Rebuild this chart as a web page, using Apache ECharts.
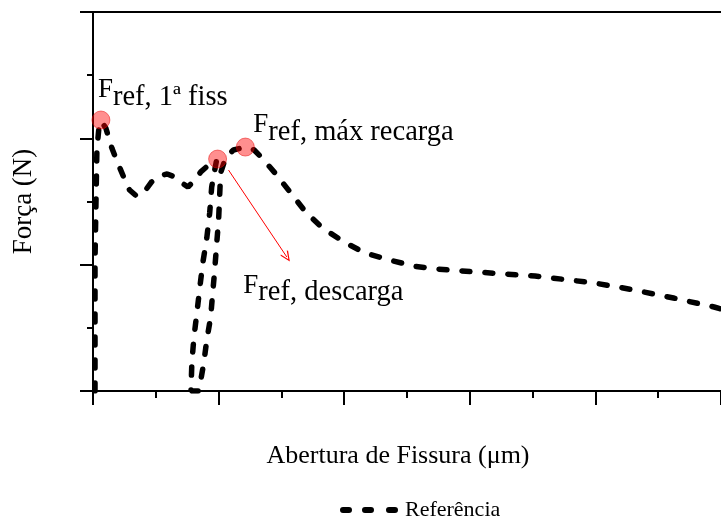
<!DOCTYPE html>
<html>
<head>
<meta charset="utf-8">
<script src="https://cdn.jsdelivr.net/npm/echarts@6/dist/echarts.min.js"></script>
<style>html,body{margin:0;padding:0;background:#fff}#c{width:721px;height:519px}</style>
</head>
<body>
<div id="c"></div>
<script>
// Abertura de fissura (major tick = 1 unit) vs Força (major tick = 1 unit); axes carry no numbers
var seriesName = 'Referência';
var xName = 'Abertura de Fissura (μm)';
var yName = 'Força (N)';
var aberturaRef = [0.016,0.016,0.016,0.024,0.031,0.047,0.063,0.102,0.150,0.197,0.244,0.291,0.346,0.402,0.465,0.528,0.591,0.654,0.709,0.756,0.803,0.858,0.921,0.984,
  0.945,0.929,0.906,0.874,0.850,0.827,0.803,0.787,0.780,
  0.843,0.882,0.906,0.937,0.953,0.969,0.984,1.000,1.008,1.016,1.055,1.118,1.213,1.283,1.346,1.449,1.575,1.693,1.827,2.000,2.165,2.362,2.551,2.732,3.047,3.520,3.992,4.307,4.622,4.945,5.0];
var forcaRef = [0,0.483,1.037,1.512,1.907,2.082,2.137,2.082,1.923,1.805,1.694,1.591,1.544,1.567,1.654,1.702,1.718,1.694,1.646,1.615,1.662,1.734,1.789,1.829,
  1.615,1.409,1.211,1.013,0.815,0.617,0.420,0.222,0,
  0,0.222,0.404,0.586,0.776,0.958,1.156,1.354,1.536,1.726,1.844,1.908,1.931,1.908,1.844,1.726,1.567,1.417,1.290,1.179,1.092,1.037,0.989,0.966,0.942,0.910,0.855,0.800,0.736,0.665,0.649];
// marked points: 1a fissura, descarga, max recarga
var markX = [0.063, 0.992, 1.213];
var markY = [2.145, 1.836, 1.931];
// annotation texts and their anchors (top-left of text, data coords)
var noteSub = ['ref, 1ª fiss', 'ref, máx recarga', 'ref, descarga'];
var noteX = [0.039, 1.276, 1.197];
var noteY = [2.493, 2.216, 0.942];
// arrow from descarga point
var arrowFrom = [1.079, 1.749];
var arrowTo = [1.543, 1.061];

var serif = 'Liberation Serif, Times New Roman, serif';
var line = [];
for (var i = 0; i < aberturaRef.length; i++) line.push([aberturaRef[i], forcaRef[i]]);
var marks = [];
for (var j = 0; j < markX.length; j++) marks.push([markX[j], markY[j]]);
var notes = [];
for (var k = 0; k < noteX.length; k++) notes.push({value: [noteX[k], noteY[k]], sub: noteSub[k]});

var dashIcon = 'path://M3,0h6a3,3 0 0 1 0,6h-6a3,3 0 0 1 0,-6z M25,0h6a3,3 0 0 1 0,6h-6a3,3 0 0 1 0,-6z M49,0h6a3,3 0 0 1 0,6h-6a3,3 0 0 1 0,-6z';

var chart = echarts.init(document.getElementById('c'));
chart.setOption({
  animation: false,
  backgroundColor: '#fff',
  grid: {left: 93, right: -7, top: 12, bottom: 128},
  legend: {
    left: 335, top: 494, itemWidth: 58, itemHeight: 6, itemGap: 8,
    data: [{name: seriesName, icon: dashIcon, itemStyle: {color: '#000'}}],
    textStyle: {fontFamily: serif, fontSize: 22, color: '#000', padding: [0, 0, 0, 2]}
  },
  xAxis: [{
    type: 'value', min: 0, max: 5, interval: 1,
    name: xName, nameLocation: 'middle', nameGap: 52,
    nameTextStyle: {fontFamily: serif, fontSize: 26, color: '#000', padding: [0, 18, 0, 0]},
    axisLine: {lineStyle: {color: '#000', width: 2}},
    axisTick: {show: true, inside: false, length: 14, lineStyle: {color: '#000', width: 2}},
    minorTick: {show: true, splitNumber: 2, length: 7, lineStyle: {color: '#000', width: 2}},
    axisLabel: {show: false}, splitLine: {show: false}
  }, {
    type: 'value', position: 'top', min: 0, max: 5,
    axisLine: {show: true, lineStyle: {color: '#000', width: 2}},
    axisTick: {show: false}, axisLabel: {show: false}, splitLine: {show: false}
  }],
  yAxis: {
    type: 'value', min: 0, max: 3, interval: 1,
    name: yName, nameLocation: 'middle', nameGap: 56,
    nameTextStyle: {fontFamily: serif, fontSize: 27, color: '#000'},
    axisLine: {lineStyle: {color: '#000', width: 2}},
    axisTick: {show: true, inside: false, length: 13, lineStyle: {color: '#000', width: 2}},
    minorTick: {show: true, splitNumber: 2, length: 6, lineStyle: {color: '#000', width: 2}},
    axisLabel: {show: false}, splitLine: {show: false}
  },
  series: [{
    name: seriesName, type: 'line', data: line, symbol: 'none', smooth: false,
    lineStyle: {color: '#000', width: 5.5, type: [8, 15], cap: 'round'},
    itemStyle: {color: '#000'}, z: 2
  }, {
    name: 'pontos', type: 'scatter', data: marks, symbolSize: 18,
    itemStyle: {color: 'rgba(255,0,0,0.55)', borderColor: 'rgba(230,0,0,0.6)', borderWidth: 1},
    z: 3, silent: true,
    markLine: {
      silent: true, animation: false,
      symbol: ['none', 'path://M5,0L10,9L9,10L5,2.5L1,10L0,9Z'],
      symbolSize: [9, 11],
      lineStyle: {color: '#ff0000', width: 1, type: 'solid'},
      label: {show: false},
      data: [[{coord: arrowFrom}, {coord: arrowTo}]]
    }
  }, {
    name: 'notas', type: 'scatter', data: notes, symbolSize: 0, silent: true, z: 4,
    itemStyle: {color: '#000', opacity: 1},
    label: {
      show: true, position: [0, 0], align: 'left', verticalAlign: 'top',
      color: '#000', opacity: 1,
      formatter: function (p) { return '{F|F}{s|' + p.data.sub + '}'; },
      rich: {
        F: {fontFamily: serif, fontSize: 27, lineHeight: 28, color: '#000'},
        s: {fontFamily: serif, fontSize: 28.5, lineHeight: 28, padding: [14, 0, 0, 0], color: '#000'}
      }
    }
  }]
});
</script>
</body>
</html>
